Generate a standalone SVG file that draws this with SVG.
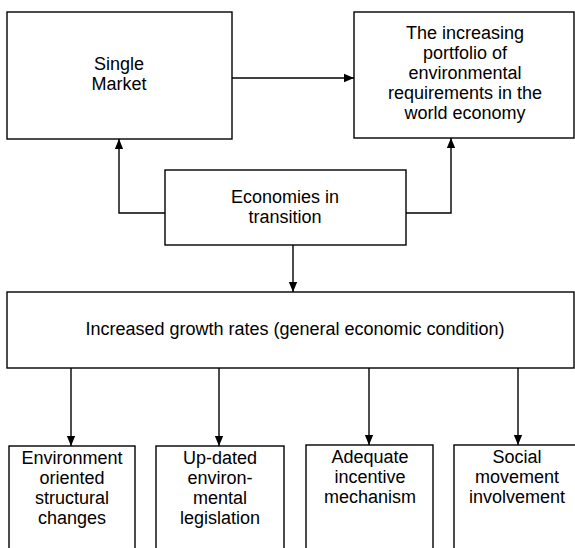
<svg xmlns="http://www.w3.org/2000/svg" width="575" height="548" viewBox="0 0 575 548">
<defs>
<style>
.box{fill:#fff;stroke:#000;stroke-width:1.4}
.t{font-family:"Liberation Sans",Arial,sans-serif;font-size:18px;fill:#000;text-anchor:middle}
.c{fill:none;stroke:#000;stroke-width:1.4}
</style>
<marker id="ah" markerWidth="10" markerHeight="12" refX="12" refY="5" orient="auto" markerUnits="userSpaceOnUse" viewBox="0 0 12 10">
<path d="M0,0 L12,5 L0,10 Z" fill="#000"/>
</marker>
</defs>
<rect width="575" height="548" fill="#fff"/>
<g id="single-market">
<rect class="box" x="7" y="12" width="225" height="127"/>
<text class="t" x="119" y="70">Single</text>
<text class="t" x="119" y="90">Market</text>
</g>
<g id="portfolio">
<rect class="box" x="354" y="12" width="220" height="126"/>
<text class="t" x="465" y="39">The increasing</text>
<text class="t" x="465" y="59">portfolio of</text>
<text class="t" x="465" y="79">environmental</text>
<text class="t" x="465" y="99">requirements in the</text>
<text class="t" x="465" y="119">world economy</text>
</g>
<g id="economies">
<rect class="box" x="165" y="170" width="241" height="75"/>
<text class="t" x="285" y="203">Economies in</text>
<text class="t" x="285" y="223">transition</text>
</g>
<g id="growth">
<rect class="box" x="7" y="292" width="567" height="76"/>
<text class="t" x="295" y="335">Increased growth rates (general economic condition)</text>
</g>
<g id="env-structural">
<rect class="box" x="9" y="446" width="126" height="120"/>
<text class="t" x="72" y="464">Environment</text>
<text class="t" x="72" y="484">oriented</text>
<text class="t" x="72" y="504">structural</text>
<text class="t" x="72" y="524">changes</text>
</g>
<g id="legislation">
<rect class="box" x="156" y="446" width="128" height="120"/>
<text class="t" x="220" y="464">Up-dated</text>
<text class="t" x="220" y="484">environ-</text>
<text class="t" x="220" y="504">mental</text>
<text class="t" x="220" y="524">legislation</text>
</g>
<g id="incentive">
<rect class="box" x="306" y="445" width="127" height="120"/>
<text class="t" x="370" y="463">Adequate</text>
<text class="t" x="370" y="483">incentive</text>
<text class="t" x="370" y="503">mechanism</text>
</g>
<g id="social">
<rect class="box" x="454" y="445" width="130" height="120"/>
<text class="t" x="517" y="463">Social</text>
<text class="t" x="517" y="483">movement</text>
<text class="t" x="517" y="503">involvement</text>
</g>
<g id="connectors">
<path class="c" d="M232,78 H354" marker-end="url(#ah)"/>
<path class="c" d="M165,213 H119 V139" marker-end="url(#ah)"/>
<path class="c" d="M406,213 H451 V138" marker-end="url(#ah)"/>
<path class="c" d="M293,245 V292" marker-end="url(#ah)"/>
<path class="c" d="M71,368 V446" marker-end="url(#ah)"/>
<path class="c" d="M219,368 V446" marker-end="url(#ah)"/>
<path class="c" d="M369,368 V445" marker-end="url(#ah)"/>
<path class="c" d="M518,368 V445" marker-end="url(#ah)"/>
</g>
</svg>
